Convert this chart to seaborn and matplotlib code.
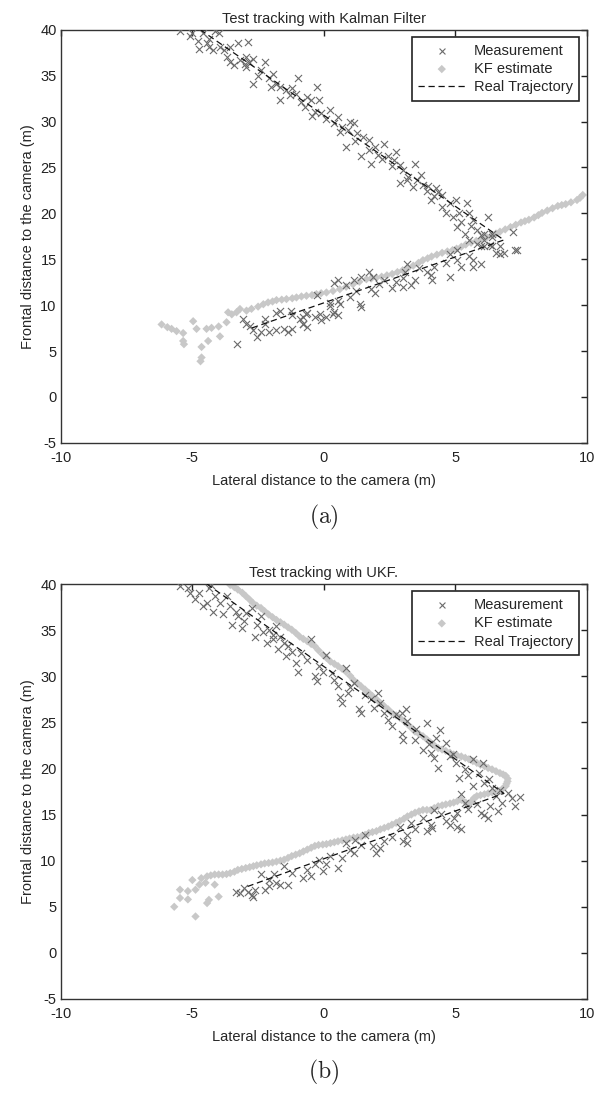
import numpy as np
import seaborn as sns
import matplotlib
matplotlib.use("Agg")
import matplotlib.pyplot as plt

# ---- data (metres) ----
# real trajectory vertices
traj_a_x = [-4.7, 6.85, -2.85]
traj_a_y = [40.0, 17.1, 7.4]
traj_b_x = [-4.45, 6.85, -2.9]
traj_b_y = [40.0, 17.3, 7.2]

# panel (a) measurements
meas_a = [
    (-5.47, 39.86), (-5.03, 39.64), (-5.1, 39.3), (-4.59, 39.6), (-4.37, 39.0), (-4.15, 39.86),
    (-4.0, 39.6), (-4.8, 38.8), (-4.44, 38.5), (-4.37, 38.1), (-4.73, 37.9), (-4.22, 37.75),
    (-3.93, 38.1), (-3.78, 37.75), (-3.56, 38.1), (-3.27, 38.5), (-2.9, 38.66), (-3.7, 37.0),
    (-3.56, 36.5), (-3.41, 36.1), (-3.19, 36.7), (-2.97, 37.0), (-2.83, 36.5), (-2.68, 36.8),
    (-2.97, 35.9), (-2.68, 34.1), (-2.39, 35.6), (-2.24, 36.5), (-2.1, 34.7), (-1.95, 35.2),
    (-1.8, 34.1), (-1.66, 33.8), (-1.44, 33.4), (-1.22, 33.6), (-1.0, 34.7), (-1.66, 32.3),
    (-1.07, 33.0), (-0.85, 32.1), (-0.63, 32.7), (-0.48, 32.3), (-0.7, 31.6), (-0.34, 31.05),
    (-0.19, 32.3), (-0.26, 33.8), (-0.12, 30.9), (0.1, 30.3), (0.25, 31.2), (0.4, 29.8),
    (0.54, 30.5), (0.69, 29.4), (0.91, 29.1), (1.13, 29.8), (1.27, 28.7), (0.84, 27.2),
    (0.98, 30.0), (1.49, 28.3), (1.71, 28.0), (1.71, 26.9), (1.42, 26.2), (1.93, 27.2),
    (2.08, 26.3), (2.3, 27.6), (1.79, 25.4), (2.45, 26.2), (2.74, 26.7), (2.67, 25.8),
    (2.6, 25.1), (2.89, 25.3), (3.03, 24.7), (3.18, 23.6), (2.89, 23.3), (3.47, 25.4),
    (3.4, 22.9), (3.69, 24.2), (3.77, 23.1), (3.91, 22.4), (4.06, 21.5), (4.28, 22.8),
    (4.5, 22.0), (4.5, 20.7), (4.64, 20.0), (4.79, 21.1), (5.01, 21.5), (5.16, 20.0),
    (5.45, 21.1), (5.23, 19.1), (5.52, 20.0), (5.08, 18.55), (5.67, 19.3), (5.82, 18.2),
    (5.38, 17.8), (5.96, 17.65), (6.26, 19.6), (6.11, 17.1), (5.52, 17.1), (6.4, 17.8),
    (6.7, 16.4), (6.84, 15.65), (7.21, 18.0), (7.36, 16.0), (6.55, 15.65), (6.33, 16.5),
    (5.96, 16.4), (3.2, 24.0), (3.55, 23.6), (4.2, 21.9), (4.9, 19.6), (5.6, 18.6),
    (4.35, 22.3), (3.95, 23.0), (2.2, 25.9), (1.2, 27.9), (0.6, 28.9), (-0.45, 30.6),
    (-1.3, 32.9), (-2.0, 33.8), (-2.5, 35.0), (-3.0, 36.3),
    (5.67, 14.2), (5.23, 14.2), (5.08, 14.9), (4.79, 13.1), (4.64, 14.6), (4.2, 14.2),
    (4.06, 13.3), (4.13, 12.7), (3.91, 13.6), (3.62, 14.0), (3.18, 14.5), (3.1, 13.6),
    (3.47, 12.7), (3.33, 12.2), (3.03, 12.0), (2.74, 12.5), (2.3, 12.7), (1.86, 13.1),
    (1.93, 11.3), (1.71, 13.6), (1.42, 13.1), (1.42, 9.8), (1.13, 12.7), (0.98, 10.9),
    (0.84, 12.2), (0.54, 12.7), (0.4, 12.4), (0.54, 10.5), (0.4, 9.3), (0.25, 10.2),
    (0.54, 8.9), (0.1, 8.7), (-0.12, 8.4), (-0.34, 8.7), (-0.26, 11.1), (-0.63, 9.1),
    (-0.78, 8.0), (-0.92, 8.5), (-1.22, 8.9), (-1.51, 7.45), (-1.8, 7.3), (-1.8, 9.1),
    (-2.1, 7.1), (-2.24, 8.0), (-2.53, 6.5), (-2.39, 7.1), (-2.68, 7.3), (-2.97, 8.0),
    (-3.31, 5.75), (-1.22, 7.45), (-1.36, 7.1), (-0.63, 7.6), (5.82, 16.7), (6.11, 16.4),
    (6.4, 16.4), (6.7, 15.6), (7.28, 16.0), (5.96, 14.5), (5.67, 14.9), (5.52, 15.3),
    (4.79, 15.6), (5.08, 16.0), (6.11, 17.8), (6.4, 17.45), (-2.81, 7.78), (-3.07, 8.5),
    (-2.24, 8.5), (-1.67, 9.4), (-1.23, 9.4), (-0.79, 7.96), (-0.8, 8.7), (-0.66, 9.04),
    (-0.15, 9.04), (0.23, 9.94), (0.35, 9.04), (0.61, 10.12), (1.24, 11.56), (1.37, 10.12),
    (1.8, 11.8), (2.1, 12.3), (2.6, 11.9), (3.0, 13.0),
]

# panel (a) KF estimate
kf_a = [
    (-6.17, 7.9), (-5.95, 7.6), (-5.79, 7.42), (-5.6, 7.17), (-5.35, 6.96), (-5.35, 6.1),
    (-5.32, 5.75), (-4.97, 8.25), (-4.84, 7.42), (-4.65, 5.45), (-4.65, 4.3), (-4.69, 3.89),
    (-4.4, 6.1), (-4.46, 7.42), (-4.27, 7.53), (-3.95, 6.6), (-4.0, 7.68), (-3.7, 8.14),
    (-3.64, 9.22), (-3.5, 9.0), (-3.32, 9.22), (-3.19, 9.58), (-2.94, 9.4), (-2.75, 9.6),
    (-2.5, 9.84), (-2.3, 10.1), (-2.12, 10.3), (-1.95, 10.4), (-1.8, 10.55), (-1.6, 10.6),
    (-1.42, 10.66), (-1.2, 10.75), (-1.04, 10.84), (-0.85, 10.95), (-0.66, 11.02), (-0.45, 11.1),
    (-0.28, 11.2), (-0.1, 11.3), (0.1, 11.38), (0.35, 11.55), (0.61, 11.74), (0.85, 12.0),
    (1.11, 12.28), (1.35, 12.55), (1.62, 12.82), (1.8, 12.9), (2.0, 13.0), (2.2, 13.1),
    (2.4, 13.25), (2.6, 13.4), (2.8, 13.6), (3.0, 13.8), (3.2, 14.05), (3.4, 14.3),
    (3.6, 14.6), (3.77, 14.9), (3.95, 15.1), (4.1, 15.3), (4.3, 15.5), (4.5, 15.7),
    (4.7, 15.85), (4.9, 16.0), (5.05, 16.15), (5.23, 16.36), (5.4, 16.6), (5.6, 16.8),
    (5.8, 17.0), (6.0, 17.2), (6.2, 17.4), (6.4, 17.6), (6.55, 17.8), (6.7, 18.0),
    (6.9, 18.25), (7.1, 18.5), (7.3, 18.75), (7.5, 19.0), (7.65, 19.15), (7.8, 19.3),
    (8.0, 19.55), (8.16, 19.8), (8.3, 20.05), (8.5, 20.3), (8.7, 20.55), (8.9, 20.8),
    (9.05, 20.9), (9.2, 21.0), (9.4, 21.2), (9.63, 21.45), (9.75, 21.7), (9.85, 22.0),
]

# panel (b) measurements
meas_b = [
    (-5.47, 39.75), (-5.17, 39.6), (-5.1, 39.0), (-4.73, 39.0), (-4.37, 39.6), (-4.29, 39.9),
    (-4.44, 37.9), (-4.15, 38.7), (-4.59, 37.6), (-4.22, 37.0), (-3.85, 36.7), (-3.93, 37.9),
    (-3.7, 38.7), (-3.56, 37.6), (-3.49, 35.6), (-3.34, 37.0), (-3.27, 36.5), (-3.05, 36.0),
    (-2.97, 36.9), (-2.75, 37.4), (-2.61, 34.3), (-2.53, 35.6), (-2.39, 36.5), (-2.17, 33.6),
    (-2.1, 35.05), (-1.95, 34.5), (-1.95, 34.0), (-1.8, 35.4), (-1.73, 32.9), (-1.66, 34.2),
    (-1.51, 33.6), (-1.44, 32.2), (-1.36, 33.25), (-1.07, 31.4), (-1.0, 30.5), (-0.85, 32.5),
    (-0.63, 31.8), (-0.48, 34.0), (-0.34, 30.0), (-0.26, 29.5), (-0.19, 31.1), (0.1, 32.35),
    (-0.04, 30.5), (0.4, 29.6), (0.54, 28.9), (0.62, 27.8), (0.69, 27.1), (0.84, 30.9),
    (0.91, 28.2), (1.13, 29.3), (1.35, 26.4), (1.42, 26.0), (1.57, 28.0), (1.79, 27.5),
    (2.08, 28.2), (2.15, 27.1), (2.3, 26.0), (2.45, 25.3), (2.59, 24.6), (2.74, 25.85),
    (2.96, 26.0), (3.11, 26.4), (3.18, 25.1), (2.96, 23.7), (3.03, 23.1), (3.47, 23.1),
    (3.77, 22.05), (3.91, 24.95), (4.06, 21.7), (4.2, 21.15), (4.28, 23.3), (4.42, 24.2),
    (4.35, 20.1), (4.64, 22.8), (4.79, 21.3), (5.01, 20.6), (5.16, 19.0), (5.38, 19.9),
    (5.67, 21.0), (5.89, 19.5), (6.04, 20.6), (5.67, 18.1), (6.11, 18.45), (6.4, 17.9),
    (6.55, 17.0), (6.7, 17.7), (6.99, 17.35), (7.14, 16.8), (6.77, 16.3), (6.62, 15.4),
    (7.28, 15.9), (7.45, 16.9), (6.26, 14.65), (5.96, 15.2), (5.82, 16.1), (6.33, 15.9),
    (-4.9, 38.4), (-3.1, 35.2), (-2.3, 34.8), (-1.2, 32.6), (0.3, 30.4), (1.0, 28.8),
    (1.9, 26.6), (3.5, 24.3), (4.0, 22.6), (4.9, 21.6), (5.5, 19.3), (6.3, 18.9),
    (5.23, 17.2), (5.38, 16.3), (5.08, 15.2), (4.94, 14.6), (4.64, 14.3), (5.08, 13.7),
    (5.23, 13.4), (4.79, 13.9), (4.2, 15.5), (4.06, 13.9), (3.91, 13.2), (4.13, 13.55),
    (3.77, 14.6), (3.47, 13.4), (3.18, 12.8), (3.03, 12.1), (3.18, 11.9), (2.89, 13.7),
    (2.59, 12.6), (2.3, 12.1), (2.15, 11.4), (2.0, 10.8), (1.86, 11.6), (1.57, 12.8),
    (1.42, 11.7), (1.13, 10.8), (0.98, 11.2), (0.84, 11.9), (0.69, 10.3), (0.54, 9.2),
    (0.25, 10.5), (0.1, 9.6), (-0.04, 8.85), (-0.19, 10.1), (-0.34, 9.6), (-0.48, 8.3),
    (-0.63, 9.0), (-0.78, 8.1), (-1.22, 8.7), (-1.36, 7.4), (-1.51, 9.4), (-1.66, 7.4),
    (-1.88, 8.5), (-2.1, 7.9), (-2.24, 6.85), (-2.39, 8.5), (-2.61, 6.85), (-2.75, 6.3),
    (-2.9, 6.65), (-3.05, 7.0), (-3.19, 6.5), (-3.34, 6.65), (-2.68, 6.1), (-2.1, 7.2),
    (-1.8, 7.6), (5.5, 15.6), (6.1, 15.0), (4.45, 15.1), (3.3, 14.1), (1.2, 12.2),
]

# panel (b) UKF estimate
kf_b = [
    (-3.56, 39.9), (-3.4, 39.65), (-3.27, 39.4), (-3.1, 39.05), (-2.97, 38.7), (-2.82, 38.3),
    (-2.68, 37.9), (-2.55, 37.65), (-2.39, 37.4), (-2.25, 37.05), (-2.1, 36.7), (-1.95, 36.4),
    (-1.8, 36.1), (-1.65, 35.85), (-1.51, 35.6), (-1.36, 35.3), (-1.22, 35.05), (-1.07, 34.7),
    (-0.92, 34.3), (-0.78, 34.05), (-0.63, 33.8), (-0.48, 33.5), (-0.34, 33.25), (-0.2, 32.8),
    (-0.04, 32.35), (0.1, 32.0), (0.25, 31.6), (0.4, 31.35), (0.54, 31.1), (0.7, 30.8),
    (0.84, 30.5), (1.0, 30.05), (1.13, 29.6), (1.28, 29.25), (1.42, 28.9), (1.57, 28.55),
    (1.71, 28.2), (1.85, 27.85), (2.0, 27.5), (2.15, 27.1), (2.3, 26.75), (2.45, 26.4),
    (2.59, 26.0), (2.75, 25.75), (2.89, 25.5), (3.05, 25.15), (3.18, 24.8), (3.33, 24.4),
    (3.47, 24.0), (3.62, 23.75), (3.77, 23.5), (3.92, 23.15), (4.06, 22.8), (4.2, 22.5),
    (4.35, 22.2), (4.5, 22.05), (4.64, 21.9), (4.8, 21.7), (4.94, 21.5), (5.08, 21.4),
    (5.23, 21.3), (5.38, 21.15), (5.52, 21.0), (5.67, 20.8), (5.82, 20.6), (5.96, 20.4),
    (6.11, 20.25), (6.25, 20.05), (6.4, 19.9), (6.55, 19.7), (6.7, 19.5), (6.82, 19.35),
    (6.92, 19.2), (6.99, 18.9), (6.99, 18.6), (6.95, 18.35), (6.92, 18.1), (6.8, 17.8),
    (6.7, 17.55), (6.55, 17.45), (6.4, 17.4), (6.25, 17.3), (6.11, 17.2), (5.96, 17.1),
    (5.82, 17.0), (5.72, 16.8), (5.67, 16.6), (5.6, 16.35), (5.52, 16.1), (5.4, 16.3),
    (5.23, 16.6), (5.08, 16.45), (4.94, 16.3), (4.8, 16.2), (4.64, 16.1), (4.5, 16.0),
    (4.35, 15.9), (4.2, 15.7), (4.06, 15.5), (3.92, 15.5), (3.77, 15.5), (3.62, 15.35),
    (3.47, 15.2), (3.33, 15.0), (3.18, 14.8), (3.05, 14.55), (2.89, 14.3), (2.75, 14.1),
    (2.59, 13.9), (2.45, 13.7), (2.3, 13.55), (2.15, 13.4), (2.0, 13.2), (1.85, 13.1),
    (1.71, 13.0), (1.57, 12.8), (1.42, 12.6), (1.28, 12.55), (1.13, 12.5), (0.98, 12.4),
    (0.84, 12.3), (0.7, 12.2), (0.54, 12.1), (0.4, 12.0), (0.25, 11.9), (0.1, 11.8),
    (-0.04, 11.75), (-0.2, 11.7), (-0.34, 11.6), (-0.48, 11.4), (-0.63, 11.2), (-0.78, 11.0),
    (-0.92, 10.8), (-1.07, 10.65), (-1.22, 10.5), (-1.36, 10.3), (-1.51, 10.1), (-1.65, 10.0),
    (-1.8, 9.9), (-1.95, 9.8), (-2.1, 9.75), (-2.25, 9.7), (-2.39, 9.6), (-2.55, 9.5),
    (-2.68, 9.4), (-2.82, 9.3), (-2.97, 9.2), (-3.12, 9.1), (-3.27, 9.0), (-3.4, 8.8),
    (-3.56, 8.65), (-3.7, 8.55), (-3.85, 8.5), (-4.0, 8.5), (-4.15, 8.5), (-4.3, 8.4),
    (-4.44, 8.3), (-4.66, 8.1), (-4.73, 7.4), (-4.88, 6.85), (-5.17, 6.7), (-5.47, 6.85),
    (-5.47, 5.95), (-5.69, 5.0), (-4.88, 3.95), (-4.44, 5.4), (-4.37, 5.75), (-4.0, 6.1),
    (-4.15, 7.4), (-5.17, 5.8), (-5.0, 7.9), (-4.5, 7.6),
]

x_ticks = [-10, -5, 0, 5, 10]
y_ticks = [-5, 0, 5, 10, 15, 20, 25, 30, 35, 40]
titles = ["Test tracking with Kalman Filter", "Test tracking with UKF."]
panel_tags = ["(a)", "(b)"]
legend_labels = ["Measurement", "KF estimate", "Real Trajectory"]

sns.set_style("white")
plt.rcParams['font.family'] = ['Liberation Sans', 'DejaVu Sans']
plt.rcParams['mathtext.fontset'] = 'cm'
plt.rcParams['axes.unicode_minus'] = False


def draw_panel(ax, meas, kf, tx, ty, title):
    meas = np.array(meas)
    kf = np.array(kf)
    sns.scatterplot(x=meas[:, 0], y=meas[:, 1], marker='x', s=26, color='#6a6a6a',
                    linewidth=0.8, label=legend_labels[0], ax=ax, zorder=3)
    sns.scatterplot(x=kf[:, 0], y=kf[:, 1], marker='D', s=18, color='#c8c8c8',
                    edgecolor='none', label=legend_labels[1], ax=ax, zorder=2)
    sns.lineplot(x=tx, y=ty, sort=False, estimator=None, color='#111111',
                 linewidth=0.9, dashes=False, label=legend_labels[2], ax=ax, zorder=4)
    ax.lines[-1].set_dashes([5, 3])

    ax.set_xlim(-10, 10)
    ax.set_ylim(-5, 40)
    ax.set_xticks(x_ticks)
    ax.set_yticks(y_ticks)
    ax.tick_params(direction='in', top=True, right=True, length=4, width=1.0,
                   labelsize=10.5, pad=3, colors='#222222')
    ax.tick_params(axis='x', pad=6)
    for sp in ax.spines.values():
        sp.set_color('#333333')
        sp.set_linewidth(1.0)
    ax.set_title(title, fontsize=10.5, pad=5)
    ax.set_xlabel('Lateral distance to the camera (m)', fontsize=10.5, labelpad=6)
    ax.set_ylabel('Frontal distance to the camera (m)', fontsize=10.5, labelpad=4)

    leg = ax.legend(loc='upper right', fontsize=10.5, frameon=True, fancybox=False,
                    framealpha=1, edgecolor='#222222', borderaxespad=0.5,
                    handlelength=3.2, labelspacing=0.3, handletextpad=0.6,
                    borderpad=0.45)
    leg.get_frame().set_linewidth(1.2)
    for h in leg.legend_handles[:2]:
        h.set_sizes([18])


fig = plt.figure(figsize=(6.03, 10.99), dpi=100)
ax1 = fig.add_axes([0.101, 0.597, 0.872, 0.376])
ax2 = fig.add_axes([0.101, 0.091, 0.872, 0.3776])

draw_panel(ax1, meas_a, kf_a, traj_a_x, traj_a_y, titles[0])
draw_panel(ax2, meas_b, kf_b, traj_b_x, traj_b_y, titles[1])

fig.text(0.537, 0.529, r'$\mathrm{' + panel_tags[0] + '}$', ha='center', va='center', fontsize=17)
fig.text(0.537, 0.024, r'$\mathrm{' + panel_tags[1] + '}$', ha='center', va='center', fontsize=17)

fig.savefig('out.png', dpi=100)
plt.close(fig)
